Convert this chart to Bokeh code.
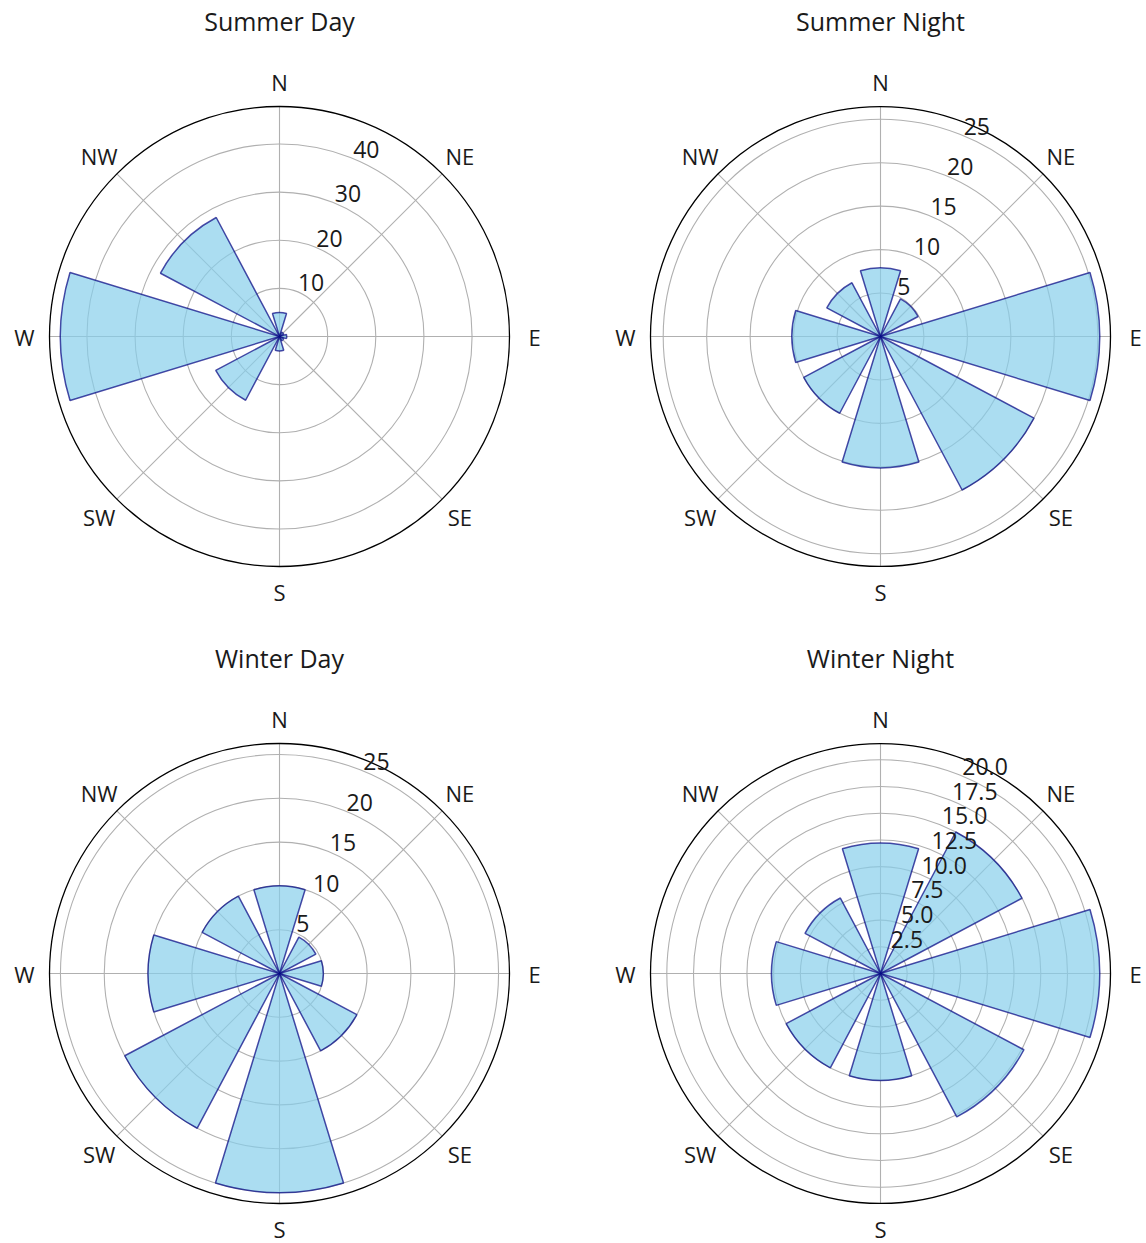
import numpy as np
from bokeh.plotting import figure
from bokeh.layouts import gridplot
from bokeh.models import Range1d
from bokeh.embed import file_html
from bokeh.resources import INLINE
from bokeh.core.properties import value

# ---------------- data ----------------
directions = ["N", "NE", "E", "SE", "S", "SW", "W", "NW"]
compass_deg = [0, 45, 90, 135, 180, 225, 270, 315]

summer_day = [5, 1, 1.5, 1, 3, 15, 45.5, 28]
summer_night = [7.9, 4.9, 25.2, 20, 15.1, 10, 10.2, 7]
winter_day = [10, 4.7, 5, 10, 25, 20, 15, 10]
winter_night = [12.2, 15, 20.5, 15.2, 10, 10, 10.2, 8]

titles = ["Summer Day", "Summer Night", "Winter Day", "Winter Night"]

rticks_summer_day = [10, 20, 30, 40]
rticks_summer_night = [5, 10, 15, 20, 25]
rticks_winter_day = [5, 10, 15, 20, 25]
rticks_winter_night = [2.5, 5.0, 7.5, 10.0, 12.5, 15.0, 17.5, 20.0]
rlabels_summer_day = ["10", "20", "30", "40"]
rlabels_summer_night = ["5", "10", "15", "20", "25"]
rlabels_winter_day = ["5", "10", "15", "20", "25"]
rlabels_winter_night = ["2.5", "5.0", "7.5", "10.0", "12.5", "15.0", "17.5", "20.0"]

# ---------------- style ----------------
FONT = "Open Sans"
R_PX = 230          # outer circle radius in px
BAR_WIDTH_DEG = 34
RLABEL_DEG = 22.5
TXT = "#1a1a1a"


def make_panel(title, vals, ticks, tlabels, ox, oy, W, H):
    rmax = 1.05 * max(vals)
    ppu = R_PX / rmax
    p = figure(width=W, height=H,
               x_range=Range1d(-ox / ppu, (W - ox) / ppu),
               y_range=Range1d(-(H - oy) / ppu, oy / ppu),
               output_backend="svg", toolbar_location=None, min_border=0)
    p.axis.visible = False
    p.grid.visible = False
    p.outline_line_color = None
    p.background_fill_color = "white"

    # radial grid rings
    p.circle(x=[0] * len(ticks), y=[0] * len(ticks), radius=ticks,
             fill_color=None, line_color="#b0b0b0", line_width=1.1)
    # spokes
    ang = np.radians(compass_deg)
    p.segment(x0=0, y0=0, x1=rmax * np.sin(ang), y1=rmax * np.cos(ang),
              line_color="#b0b0b0", line_width=1.1)

    # bars
    half = BAR_WIDTH_DEG / 2
    start = np.radians([90 - d - half for d in compass_deg])
    end = np.radians([90 - d + half for d in compass_deg])
    p.wedge(x=0, y=0, radius=vals, start_angle=start, end_angle=end,
            fill_color="skyblue", fill_alpha=0.7,
            line_color="navy", line_alpha=0.7, line_width=1.5)

    # outer circle
    p.circle(x=[0], y=[0], radius=[rmax], fill_color=None,
             line_color="black", line_width=1.3)

    # radial tick labels
    ra = np.radians(RLABEL_DEG)
    p.text(x=[t * np.sin(ra) for t in ticks], y=[t * np.cos(ra) for t in ticks],
           text=tlabels, text_align="left", text_baseline="bottom",
           y_offset=-1, text_font=value(FONT), text_font_size="23px",
           text_color=TXT)

    # direction labels
    rl = 255 / ppu
    p.text(x=rl * np.sin(ang), y=rl * np.cos(ang), text=directions,
           text_align="center", text_baseline="middle",
           text_font=value(FONT), text_font_size="22px", text_color=TXT)

    # title
    p.text(x=[0], y=[316 / ppu], text=[title], text_align="center",
           text_baseline="middle", text_font=value(FONT),
           text_font_size="25px", text_color=TXT)
    return p


WL, WR = 570, 576
HT, HB = 620, 622
p1 = make_panel(titles[0], summer_day, rticks_summer_day, rlabels_summer_day, 279, 336, WL, HT)
p2 = make_panel(titles[1], summer_night, rticks_summer_night, rlabels_summer_night, 310, 336, WR, HT)
p3 = make_panel(titles[2], winter_day, rticks_winter_day, rlabels_winter_day, 279, 353, WL, HB)
p4 = make_panel(titles[3], winter_night, rticks_winter_night, rlabels_winter_night, 310, 353, WR, HB)

grid = gridplot([[p1, p2], [p3, p4]], toolbar_location=None)

open("out.html", "w").write(file_html(grid, INLINE))
